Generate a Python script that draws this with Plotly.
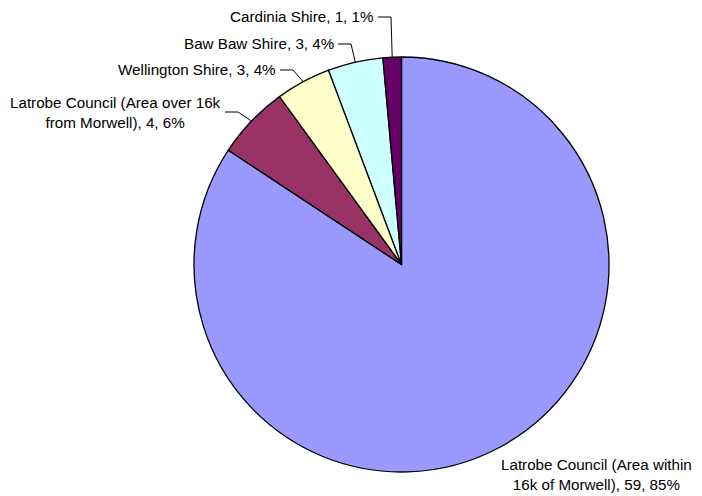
import math
import plotly.graph_objects as go

# ---- data ----
categories = [
    "Latrobe Council (Area within 16k of Morwell)",
    "Latrobe Council (Area over 16k from Morwell)",
    "Wellington Shire",
    "Baw Baw Shire",
    "Cardinia Shire",
]
values = [59, 4, 3, 3, 1]
percent_labels = ["85%", "6%", "4%", "4%", "1%"]
label_texts = [
    "Latrobe Council (Area within<br>16k of Morwell), 59, 85%",
    "Latrobe Council (Area over 16k<br>from Morwell), 4, 6%",
    "Wellington Shire, 3, 4%",
    "Baw Baw Shire, 3, 4%",
    "Cardinia Shire, 1, 1%",
]
colors = ["#9999FF", "#993366", "#FFFFCC", "#CCFFFF", "#660066"]

# ---- layout constants (pixels in the 702x496 window) ----
WIN_W, WIN_H = 702, 496
OFF = 8  # default page body margin
W, H = WIN_W - OFF, WIN_H - OFF
PIE_L, PIE_R, PIE_T, PIE_B = 194, 609, 57, 472
CX, CY = (PIE_L + PIE_R) / 2, (PIE_T + PIE_B) / 2
RAD = (PIE_R - PIE_L) / 2

# label placement: (x, y, xanchor, elbow point or None)
label_pos = [
    (596, 474, "center", None),
    (223, 112, "right", (238, 112)),
    (278, 70, "right", (293, 70)),
    (336, 44, "right", (351, 44)),
    (376, 17, "right", (391, 17)),
]


def px(x):
    return (x - OFF) / W


def py(y):
    return 1 - (y - OFF) / H


fig = go.Figure(
    go.Pie(
        labels=categories,
        values=values,
        sort=False,
        direction="clockwise",
        rotation=0,
        textinfo="none",
        hoverinfo="label+value+percent",
        marker=dict(colors=colors, line=dict(color="#000000", width=1.3)),
        domain=dict(x=[px(PIE_L), px(PIE_R)], y=[py(PIE_B), py(PIE_T)]),
        showlegend=False,
    )
)

total = sum(values)
cum = 0
shapes = []
annotations = []
for i, v in enumerate(values):
    mid = (cum + v / 2) / total
    cum += v
    ang = 2 * math.pi * mid
    ex = CX + RAD * math.sin(ang)
    ey = CY - RAD * math.cos(ang)
    tx, ty, anchor, elbow = label_pos[i]
    annotations.append(
        dict(
            x=px(tx), y=py(ty), xref="paper", yref="paper",
            text=label_texts[i], showarrow=False,
            xanchor=anchor, yanchor="middle", align="center",
            font=dict(family="Liberation Sans, Arial, sans-serif", size=15.2, color="#000000"),
        )
    )
    if elbow is not None:
        shapes.append(dict(type="line", xref="paper", yref="paper",
                           x0=px(ex), y0=py(ey), x1=px(elbow[0]), y1=py(elbow[1]),
                           line=dict(color="#000000", width=1)))
        shapes.append(dict(type="line", xref="paper", yref="paper",
                           x0=px(elbow[0]), y0=py(elbow[1]), x1=px(tx + 2), y1=py(ty),
                           line=dict(color="#000000", width=1)))

fig.update_layout(
    width=W, height=H,
    margin=dict(l=0, r=0, t=0, b=0),
    paper_bgcolor="#FFFFFF",
    plot_bgcolor="#FFFFFF",
    shapes=shapes,
    annotations=annotations,
)

fig.write_html("out.html")
